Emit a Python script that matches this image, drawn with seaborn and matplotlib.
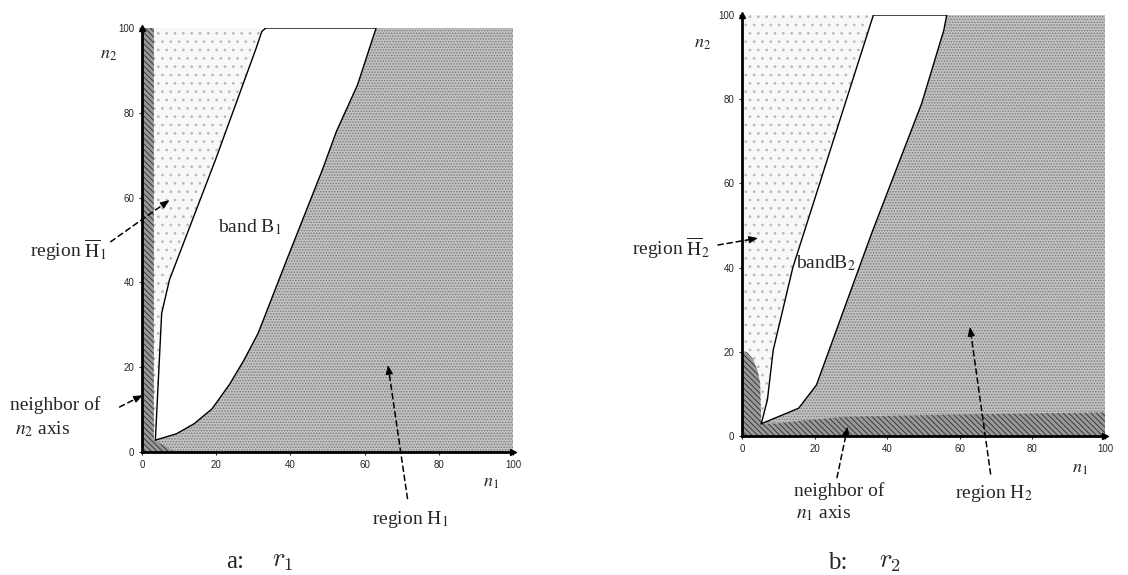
import numpy as np
import pandas as pd
import matplotlib
matplotlib.use("Agg")
import matplotlib.pyplot as plt
import seaborn as sns

# ---- panel a : r1 -------------------------------------------------------
# band B1: left boundary (bottom -> top) and right boundary (top -> bottom)
b1_left_x = [3.6, 5.3, 7.4, 19.8, 30.8, 32.3, 33.4]
b1_left_y = [2.8, 32.7, 40.6, 68.9, 95.3, 99.2, 100.0]
b1_right_x = [63.1, 58.1, 52.4, 48.6, 39.0, 31.3, 27.5, 23.7, 18.9, 14.1, 9.3, 3.6]
b1_right_y = [100.0, 86.6, 75.6, 66.5, 45.3, 28.0, 21.7, 16.1, 10.2, 6.7, 4.3, 2.8]
# neighbour of the n2 axis
nb2_x = [0.0, 0.0, 3.2, 3.2, 9.0]
nb2_y = [0.0, 100.0, 100.0, 2.8, 0.0]

# ---- panel b : r2 -------------------------------------------------------
b2_left_x = [5.3, 7.0, 8.6, 14.0, 36.2]
b2_left_y = [2.9, 8.6, 20.4, 40.0, 100.0]
b2_right_x = [56.4, 55.6, 49.5, 35.7, 20.5, 15.6, 5.3]
b2_right_y = [100.0, 96.4, 79.0, 48.1, 12.1, 6.6, 2.9]
# neighbour of the n1 axis (with the lobe along the n2 axis)
nb1_x = [0.0, 0.0, 1.5, 3.0, 4.3, 5.0, 5.3, 10.0, 15.8, 29.0, 60.0, 100.0, 100.0]
nb1_y = [0.0, 20.4, 19.8, 18.3, 15.5, 12.6, 2.9, 3.0, 3.6, 4.6, 5.1, 5.6, 0.0]

ticks = [0, 20, 40, 60, 80, 100]

W, H = 1128, 575
sns.set_style("white")
plt.rcParams["font.family"] = ["Liberation Serif", "DejaVu Serif"]
plt.rcParams["mathtext.fontset"] = "stix"
plt.rcParams["hatch.linewidth"] = 0.7

fig = plt.figure(figsize=(W / 100, H / 100), dpi=100)
axA = fig.add_axes([142 / W, (H - 452) / H, 371 / W, 424 / H])
axB = fig.add_axes([742 / W, (H - 436) / H, 363 / W, 421 / H])


def draw_panel(ax, lx, ly, rx, ry, nx, ny):
    ax.set_xlim(0, 100)
    ax.set_ylim(0, 100)
    # region H-bar (light stipple) everywhere, then H, the axis neighbour and the band
    ax.fill([0, 0, 100, 100], [0, 100, 100, 0], facecolor="#f8f8f8",
            edgecolor="#b8b8b8", hatch="..", lw=0, zorder=0)
    hx = rx + [rx[-1], 100, 100]
    hy = ry + [0, 0, 100]
    ax.fill(hx, hy, facecolor="#c2c2c2", edgecolor="#7a7a7a", hatch="......",
            lw=0, zorder=1)
    ax.fill(nx, ny, facecolor="#9a9a9a", edgecolor="#383838",
            hatch="\\\\\\\\\\\\", lw=0, zorder=2)
    bx = lx + rx
    by = ly + ry
    ax.fill(bx, by, facecolor="white", lw=0, zorder=3)
    outline = pd.DataFrame({"n1": bx + [bx[0]], "n2": by + [by[0]]})
    sns.lineplot(data=outline, x="n1", y="n2", sort=False, estimator=None,
                 color="black", lw=1.0, ax=ax, zorder=4)
    ax.set_xlabel("")
    ax.set_ylabel("")
    sns.despine(ax=ax)
    for side in ("left", "bottom"):
        ax.spines[side].set_linewidth(2.0)
        ax.spines[side].set_color("black")
        ax.spines[side].set_zorder(6)
    ax.plot(1.0, 0, ">", color="black", ms=5, transform=ax.transAxes,
            clip_on=False, zorder=7)
    ax.plot(0, 1.0, "^", color="black", ms=5, transform=ax.transAxes,
            clip_on=False, zorder=7)
    ax.set_xticks(ticks)
    ax.set_yticks(ticks)
    ax.tick_params(bottom=True, left=True, direction="out", length=2.5,
                   width=0.8, labelsize=7, pad=3)
    for lbl in ax.get_xticklabels() + ax.get_yticklabels():
        lbl.set_fontfamily("Liberation Sans")
    ax.grid(False)


draw_panel(axA, b1_left_x, b1_left_y, b1_right_x, b1_right_y, nb2_x, nb2_y)
draw_panel(axB, b2_left_x, b2_left_y, b2_right_x, b2_right_y, nb1_x, nb1_y)


def label(x, y, s, ha="center", size=14, **kw):
    fig.text(x / W, 1 - y / H, s, ha=ha, va="center", fontsize=size, **kw)


def dashed_arrow(ax, start, target):
    sx, sy = start[0], H - start[1]
    tx, ty = ax.transData.transform(target)
    d = np.array([tx - sx, ty - sy])
    d = d / np.hypot(*d)
    hx, hy = tx - 7 * d[0], ty - 7 * d[1]
    ax.annotate("", xy=(hx, hy), xytext=(sx, sy), xycoords="figure pixels",
                textcoords="figure pixels", annotation_clip=False,
                arrowprops=dict(arrowstyle="-", linestyle=(0, (3.5, 2.5)),
                                lw=1.1, color="black", shrinkA=0, shrinkB=0))
    ax.annotate("", xy=(tx, ty), xytext=(hx, hy), xycoords="figure pixels",
                textcoords="figure pixels", annotation_clip=False,
                arrowprops=dict(arrowstyle="-|>,head_length=0.55,head_width=0.22",
                                lw=0.8, color="black", mutation_scale=10,
                                shrinkA=0, shrinkB=0))


# panel a labels
label(109, 54, "$n_2$", size=13)
label(491, 483, "$n_1$", size=13)
axA.text(20.5, 53.1, "band B$_1$", ha="left", va="center", fontsize=14, zorder=8)
label(106, 250, "region $\\overline{\\mathrm{H}}_1$", ha="right")
label(10, 405, "neighbor of", ha="left")
label(15, 429, "$n_2$ axis", ha="left")
label(372, 519, "region H$_1$", ha="left")
label(235, 562, "a:", size=18)
label(283, 562, "$r_1$", size=19, math_fontfamily="cm")
dashed_arrow(axA, (110.7, 241.7), (7.4, 59.4))
dashed_arrow(axA, (119.6, 407.0), (0.2, 13.4))
dashed_arrow(axA, (407.5, 498.6), (66.3, 20.5))

# panel b labels
label(703, 43, "$n_2$", size=13)
label(1080, 469, "$n_1$", size=13)
axB.text(14.8, 41.0, "bandB$_2$", ha="left", va="center", fontsize=14, zorder=8)
label(710, 248, "region $\\overline{\\mathrm{H}}_2$", ha="right")
label(794, 491, "neighbor of", ha="left")
label(796, 513, "$n_1$ axis", ha="left")
label(955, 494, "region H$_2$", ha="left")
label(838, 563, "b:", size=18)
label(890, 563, "$r_2$", size=19, math_fontfamily="cm")
dashed_arrow(axB, (718.0, 245.0), (4.4, 47.0))
dashed_arrow(axB, (990.6, 474.0), (62.8, 25.9))
dashed_arrow(axB, (837.0, 477.6), (29.1, 2.2))

fig.savefig("out.png", dpi=100)
